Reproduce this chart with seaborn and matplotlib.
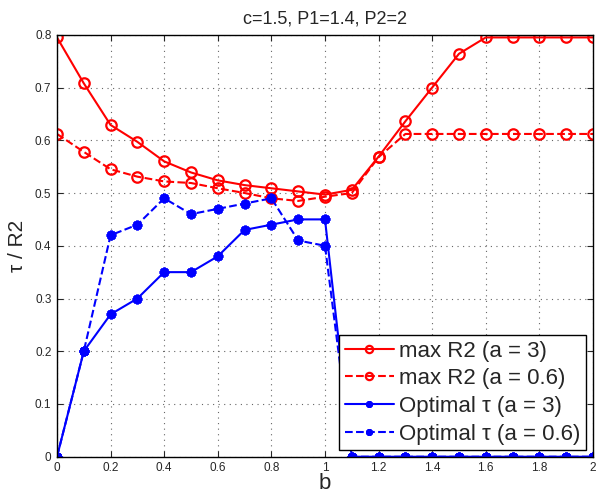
import numpy as np
import pandas as pd
import matplotlib
matplotlib.use("Agg")
import matplotlib.pyplot as plt
from matplotlib.ticker import FuncFormatter, MultipleLocator
import seaborn as sns

b = [0.0, 0.1, 0.2, 0.3, 0.4, 0.5, 0.6, 0.7, 0.8, 0.9, 1.0,
     1.1, 1.2, 1.3, 1.4, 1.5, 1.6, 1.7, 1.8, 1.9, 2.0]
maxR2_a3 = [0.795, 0.708, 0.629, 0.597, 0.560, 0.539, 0.524, 0.515, 0.509, 0.503, 0.497,
            0.506, 0.569, 0.636, 0.700, 0.764, 0.795, 0.795, 0.795, 0.795, 0.795]
maxR2_a06 = [0.612, 0.578, 0.545, 0.531, 0.522, 0.519, 0.509, 0.500, 0.490, 0.485, 0.493,
             0.500, 0.568, 0.612, 0.612, 0.612, 0.612, 0.612, 0.612, 0.612, 0.612]
tau_a3 = [0.0, 0.20, 0.27, 0.30, 0.35, 0.35, 0.38, 0.43, 0.44, 0.45, 0.45,
          0, 0, 0, 0, 0, 0, 0, 0, 0, 0]
tau_a06 = [0.0, 0.20, 0.42, 0.44, 0.49, 0.46, 0.47, 0.48, 0.49, 0.41, 0.40,
           0, 0, 0, 0, 0, 0, 0, 0, 0, 0]

labels = ["max R2 (a = 3)", "max R2 (a = 0.6)", "Optimal τ (a = 3)", "Optimal τ (a = 0.6)"]
title = "c=1.5, P1=1.4, P2=2"

sns.set_style("ticks")
plt.rcParams['font.family'] = ['Liberation Sans', 'DejaVu Sans']

fig = plt.figure(figsize=(5.98, 4.97), dpi=100)
ax = fig.add_axes([0.0953, 0.081, 0.8963, 0.849])

asterisk = (8, 2, 0)
series = [
    (maxR2_a3, labels[0], "red", "-", "o"),
    (maxR2_a06, labels[1], "red", "--", "o"),
    (tau_a3, labels[2], "blue", "-", asterisk),
    (tau_a06, labels[3], "blue", "--", asterisk),
]
for y, lab, col, ls, mk in series:
    df = pd.DataFrame({"b": b, "v": y})
    ms = 7.5 if mk == "o" else 7
    sns.lineplot(data=df, x="b", y="v", ax=ax, color=col, linestyle=ls, linewidth=1.5,
                 marker=mk, markersize=ms, markerfacecolor="none",
                 markeredgecolor=col, markeredgewidth=1.6 if mk == "o" else 2.0, label=lab)

ax.set_xlim(0, 2)
ax.set_ylim(0, 0.8)
ax.xaxis.set_major_locator(MultipleLocator(0.2))
ax.yaxis.set_major_locator(MultipleLocator(0.1))
fmt = FuncFormatter(lambda v, p: "%g" % round(v, 3))
ax.xaxis.set_major_formatter(fmt)
ax.yaxis.set_major_formatter(fmt)
ax.tick_params(direction="in", labelsize=8.5, length=4, top=True, right=True, pad=4)
ax.grid(True, linestyle=(0, (1, 4)), color="#666666", linewidth=0.8)
for s in ax.spines.values():
    s.set_visible(True)
    s.set_linewidth(1.0)
    s.set_color("black")

ax.set_xlabel("b", fontsize=16, labelpad=-1)
ax.set_ylabel("τ / R2", fontsize=15, labelpad=6)
ax.set_title(title, fontsize=13, pad=8)

leg = ax.legend(loc="lower right", fontsize=16, frameon=True, fancybox=False,
                edgecolor="black", framealpha=1, borderpad=0.25, labelspacing=0.3,
                handlelength=2.2, handletextpad=0.25, borderaxespad=0.3, markerscale=0.7)
leg.get_frame().set_linewidth(1.0)

fig.savefig("out.png", dpi=100)
